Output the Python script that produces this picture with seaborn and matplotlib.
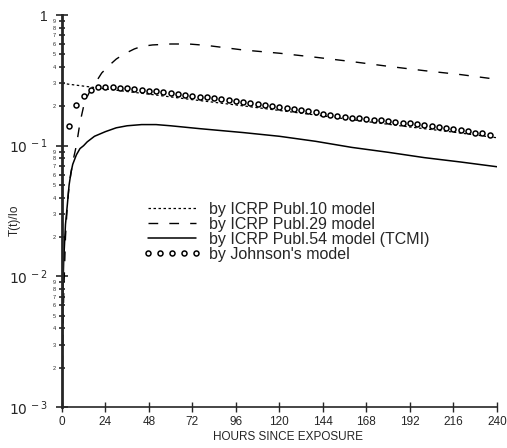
import numpy as np
import pandas as pd
import matplotlib
matplotlib.use('Agg')
import matplotlib.pyplot as plt
from matplotlib.ticker import LogLocator, FuncFormatter, FixedLocator
import seaborn as sns

# ICRP Publ.10 model (dotted)
t_p10 = [0, 24, 48, 72, 96, 120, 144, 168, 192, 216, 240]
y_p10 = [0.30, 0.272, 0.248, 0.225, 0.205, 0.186, 0.169, 0.153, 0.139, 0.127, 0.115]

# ICRP Publ.29 model (dashed)
t_p29 = [0, 0.5, 1, 2, 3, 4, 6, 8, 10, 12, 14, 16, 19, 22, 26, 30, 34, 40, 44, 50, 60, 70,
         80, 100, 120, 140, 160, 180, 200, 220, 240]
y_p29 = [0.001, 0.003, 0.007, 0.02, 0.035, 0.05, 0.075, 0.10, 0.15, 0.20, 0.237, 0.27, 0.31,
         0.36, 0.41, 0.46, 0.50, 0.55, 0.575, 0.59, 0.60, 0.60, 0.585, 0.54, 0.51, 0.475,
         0.44, 0.405, 0.375, 0.35, 0.322]

# ICRP Publ.54 model (TCMI) (solid)
t_p54 = [0, 0.3, 0.6, 1, 1.5, 2, 3, 4, 5, 6, 8, 10, 12, 14, 18, 24, 30, 36, 44, 52, 60, 76,
         100, 120, 140, 160, 180, 200, 220, 240]
y_p54 = [0.001, 0.003, 0.008, 0.013, 0.018, 0.025, 0.035, 0.05, 0.062, 0.072, 0.085, 0.095,
         0.10, 0.107, 0.118, 0.128, 0.137, 0.142, 0.145, 0.145, 0.142, 0.135, 0.126, 0.118,
         0.108, 0.097, 0.089, 0.081, 0.075, 0.069]

# Johnson's model (circles every 4 h)
t_john = list(range(4, 237, 4))
y_john = [0.142, 0.205, 0.242, 0.268, 0.279, 0.282, 0.281, 0.278, 0.275, 0.271, 0.268, 0.264,
          0.260, 0.256, 0.252, 0.248, 0.244, 0.240, 0.237, 0.234, 0.230, 0.227, 0.223, 0.219,
          0.215, 0.211, 0.207, 0.204, 0.200, 0.197, 0.194, 0.190, 0.187, 0.183, 0.180, 0.176,
          0.173, 0.169, 0.166, 0.164, 0.162, 0.160, 0.158, 0.156, 0.154, 0.152, 0.150, 0.148,
          0.146, 0.144, 0.141, 0.139, 0.136, 0.134, 0.131, 0.129, 0.126, 0.124, 0.121]

x_ticks = [0, 24, 48, 72, 96, 120, 144, 168, 192, 216, 240]

sns.set_style('ticks')
plt.rcParams['font.family'] = ['Liberation Sans', 'DejaVu Sans']

fig = plt.figure(figsize=(5.07, 4.48), dpi=100)
ax = fig.add_axes([0.122, 0.0915, 0.858, 0.875])

sns.lineplot(x=t_p10, y=y_p10, ax=ax, color='black', lw=0.9, label='by ICRP Publ.10 model')
ax.lines[-1].set_dashes([2, 2])
sns.lineplot(x=t_p29, y=y_p29, ax=ax, color='black', lw=1.0, label='by ICRP Publ.29 model')
ax.lines[-1].set_dashes([7, 8])
sns.lineplot(x=t_p54, y=y_p54, ax=ax, color='black', lw=1.1, label='by ICRP Publ.54 model (TCMI)')
sns.lineplot(x=t_john, y=y_john, ax=ax, color='black', linestyle='', marker='o', markersize=3.6,
             markerfacecolor='white', markeredgecolor='black', markeredgewidth=1.1,
             label="by Johnson's model")

ax.set_yscale('log')
ax.set_ylim(1e-3, 1)
ax.set_xlim(0, 240)
ax.set_xticks(x_ticks)
ax.set_xticklabels([str(v) for v in x_ticks])

ax.yaxis.set_major_locator(FixedLocator([1e-3, 1e-2, 1e-1, 1]))
ax.yaxis.set_major_formatter(FuncFormatter(
    lambda v, p: '1' if abs(v - 1) < 1e-9 else r'$10^{\,%d}$' % round(np.log10(v))))
ax.yaxis.set_minor_locator(LogLocator(base=10, subs=np.arange(2, 10), numticks=20))
ax.yaxis.set_minor_formatter(FuncFormatter(
    lambda v, p: '%d' % round(v / 10 ** np.floor(np.log10(v) + 1e-9))))

ax.tick_params(axis='y', which='major', direction='inout', length=8, width=1.2, labelsize=10, pad=6)
ax.tick_params(axis='y', which='minor', direction='inout', length=5, width=1.2, labelsize=4, pad=2)
ax.tick_params(axis='x', which='major', direction='inout', length=7, width=1.0, labelsize=8.5, pad=3)

for side in ['top', 'right']:
    ax.spines[side].set_visible(False)
ax.spines['left'].set_linewidth(2.0)
ax.spines['bottom'].set_linewidth(1.2)

ax.set_xlabel('HOURS SINCE EXPOSURE', fontsize=8.5)
ax.xaxis.set_label_coords(0.52, -0.062)
ax.set_ylabel('T(t)/Io', fontsize=8.5)
ax.yaxis.set_label_coords(-0.095, 0.477)

ax.legend(loc='upper left', bbox_to_anchor=(0.155, 0.56), frameon=False, fontsize=11.5,
          handlelength=3.6, handletextpad=0.5, labelspacing=0.0, numpoints=5)

fig.savefig('out.png', dpi=100)
